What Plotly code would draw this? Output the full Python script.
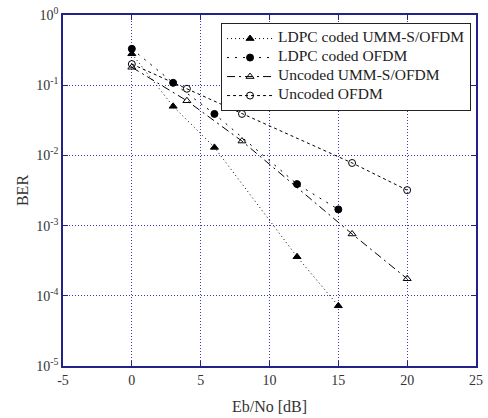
import plotly.graph_objects as go

snr_ldpc_umm = [0, 3, 6, 12, 15]
ber_ldpc_umm = [0.28, 0.05, 0.013, 3.6e-4, 7.2e-5]

snr_ldpc_ofdm = [0, 3, 6, 12, 15]
ber_ldpc_ofdm = [0.33, 0.108, 0.039, 0.0039, 0.0017]

snr_unc_umm = [0, 4, 8, 16, 20]
ber_unc_umm = [0.18, 0.06, 0.016, 7.6e-4, 1.75e-4]

snr_unc_ofdm = [0, 4, 8, 16, 20]
ber_unc_ofdm = [0.2, 0.089, 0.039, 0.0078, 0.0032]

names = ["LDPC coded UMM-S/OFDM", "LDPC coded OFDM", "Uncoded UMM-S/OFDM", "Uncoded OFDM"]
ytick_vals = [1, 0.1, 0.01, 1e-3, 1e-4, 1e-5]
ytick_text = ["10<sup>0</sup>", "10<sup>-1</sup>", "10<sup>-2</sup>", "10<sup>-3</sup>", "10<sup>-4</sup>", "10<sup>-5</sup>"]
xtick_vals = [-5, 0, 5, 10, 15, 20, 25]
xtick_text = ["-5", "0", "5", "10", "15", "20", "25"]

series = [
    (snr_ldpc_umm, ber_ldpc_umm, "1px,3px", "triangle-up"),
    (snr_ldpc_ofdm, ber_ldpc_ofdm, "2px,6px", "circle"),
    (snr_unc_umm, ber_unc_umm, "8px,4px,2px,4px", "triangle-up-open"),
    (snr_unc_ofdm, ber_unc_ofdm, "3px,3px", "circle-open"),
]

fig = go.Figure()
for (x, y, dash, sym), name in zip(series, names):
    fig.add_trace(go.Scatter(
        x=x, y=y, name='<span style="font-size:15.5px">' + name + '</span>',
        mode="lines+markers",
        line=dict(color="black", width=1, dash=dash),
        marker=dict(symbol=sym, size=7, color="black", line=dict(color="black", width=1)),
    ))

axis_color = "#22228a"
grid_color = "#3a3ab8"
fig.update_layout(
    width=488, height=418,
    margin=dict(l=63, r=5, t=14, b=52),
    paper_bgcolor="white", plot_bgcolor="white",
    font=dict(family="Liberation Serif, Times New Roman, serif", size=14, color="#333333"),
    showlegend=True,
    legend=dict(
        x=0.988, y=0.977, xanchor="right", yanchor="top",
        bgcolor="white", bordercolor="#222222", borderwidth=1,
        font=dict(size=10, color="#222222"),
        tracegroupgap=0, itemwidth=46,
    ),
    xaxis=dict(
        range=[-5, 25], tickvals=xtick_vals, ticktext=xtick_text, ticks="inside", ticklen=5,
        tickcolor=axis_color, showline=True, linecolor=axis_color, linewidth=1.5,
        mirror="ticks", showgrid=True, gridcolor=grid_color, griddash="1px,2px", gridwidth=1,
        zeroline=False, ticklabeloverflow="allow",
        title=dict(text="Eb/No [dB]", standoff=14, font=dict(size=16)),
    ),
    yaxis=dict(
        type="log", range=[-5, 0], tickvals=ytick_vals, ticktext=ytick_text,
        ticks="inside", ticklen=5, tickcolor=axis_color, showline=True,
        linecolor=axis_color, linewidth=1.5, mirror="ticks", showgrid=True,
        gridcolor=grid_color, griddash="1px,2px", gridwidth=1, zeroline=False,
        ticklabeloverflow="allow",
        title=dict(text="BER", standoff=4, font=dict(size=16)),
    ),
)

fig.write_html(
    "out.html",
    config={"displayModeBar": False},
    post_script="document.body.style.margin='0';document.body.style.overflow='hidden';",
)
